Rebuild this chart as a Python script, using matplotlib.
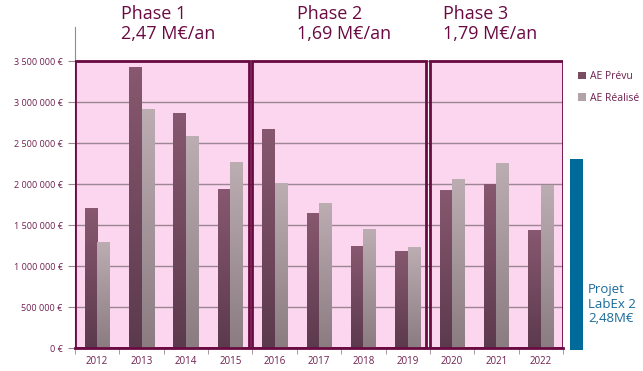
import matplotlib.pyplot as plt
import numpy as np
from matplotlib.patches import Rectangle
from matplotlib.colors import LinearSegmentedColormap

plt.rcParams['font.family'] = ['Open Sans', 'DejaVu Sans']

years = ["2012", "2013", "2014", "2015", "2016", "2017", "2018", "2019", "2020", "2021", "2022"]
ae_prevu = [1705000, 3430000, 2865000, 1940000, 2680000, 1645000, 1240000, 1190000, 1925000, 2000000, 1435000]
ae_realise = [1300000, 2915000, 2585000, 2268000, 2010000, 1766000, 1450000, 1230000, 2060000, 2255000, 1987000]
phase_labels = ["Phase 1\n2,47 M€/an", "Phase 2\n1,69 M€/an", "Phase 3\n1,79 M€/an"]
phase_spans = [(-0.5, 3.42), (3.49, 7.42), (7.5, 10.5)]
labex_value = 2340000
labex_label = "Projet\nLabEx 2\n2,48M€"

purple = "#6a0a42"
txt = "#6e1f4f"
pink = "#fcd5ee"

fig = plt.figure(figsize=(6.43, 3.71), dpi=100)
ax = fig.add_axes([75/643, 1-348/371, 488/643, 321/371])

x = np.arange(len(years))
w = 0.28

# phase boxes
for (x0, x1) in phase_spans:
    ax.add_patch(Rectangle((x0, 0), x1 - x0, 3500000, facecolor=pink, edgecolor="none", zorder=0))
    ax.add_patch(Rectangle((x0, 0), x1 - x0, 3500000, facecolor="none", edgecolor=purple, lw=2, zorder=4))

for v in range(500000, 3500001, 500000):
    ax.axhline(v, color="#9c8594", lw=1, zorder=1)

b1 = ax.bar(x - w/2, ae_prevu, w, color="#7a4c62", zorder=2, label="AE Prévu")
b2 = ax.bar(x + w/2, ae_realise, w, color="#b2a3a9", zorder=2, label="AE Réalisé")

# vertical gradients on bars
def shade(bars, top, bottom):
    grad = np.linspace(0, 1, 100).reshape(-1, 1)
    cmap = LinearSegmentedColormap.from_list("g", [bottom, top])
    for b in bars:
        bx, by = b.get_x(), b.get_y()
        im = ax.imshow(grad, extent=[bx, bx + b.get_width(), by, by + b.get_height()],
                       origin="lower", aspect="auto", cmap=cmap, zorder=3)
        im.set_clip_path(b)

shade(b1, "#87586f", "#5c3a4d")
shade(b2, "#bcadb2", "#8b7c82")

ax.bar(10.8, labex_value, 0.29, bottom=-30000, color="#006a9a", clip_on=False, zorder=5)
fig.text(588/643, 1-283/371, labex_label, color="#1a6a9a", fontsize=9.5, va="top", ha="left",
         linespacing=1.15)

ax.set_xlim(-0.5, 10.5)
ax.set_ylim(0, 3920000)
ax.set_aspect("auto")

yt = np.arange(0, 3500001, 500000)
ax.set_yticks(yt)
ax.set_yticklabels([("{:,}".format(v).replace(",", " ") + " €") for v in yt], fontsize=6.5, color=txt)
ax.set_xticks(x)
ax.set_xticklabels(years, fontsize=7, color=txt)
ax.set_xticks(np.arange(-0.5, 10.6, 1), minor=True)
ax.tick_params(axis="x", which="major", length=0, pad=6)
ax.tick_params(axis="x", which="minor", length=4, color="#9c8594")
ax.tick_params(axis="y", length=5, color="#9c8594", pad=4)

for s in ["top", "right"]:
    ax.spines[s].set_visible(False)
ax.spines["left"].set_color("#9c8594")
ax.spines["bottom"].set_color(purple)
ax.spines["bottom"].set_linewidth(2)
ax.patch.set_visible(False)

for lbl, xp in zip(phase_labels, [121, 297, 443]):
    fig.text(xp/643, 1-5/371, lbl, fontsize=13, color=purple, va="top", ha="left", linespacing=1.15)

fig.legend(handles=[b1, b2], loc="upper left", bbox_to_anchor=(573/643, 1-66/371), frameon=False,
           fontsize=7.5, labelcolor=txt, handlelength=0.7, handleheight=0.7, handletextpad=0.4,
           labelspacing=1.0, borderpad=0)

fig.savefig("out.png", dpi=100)
